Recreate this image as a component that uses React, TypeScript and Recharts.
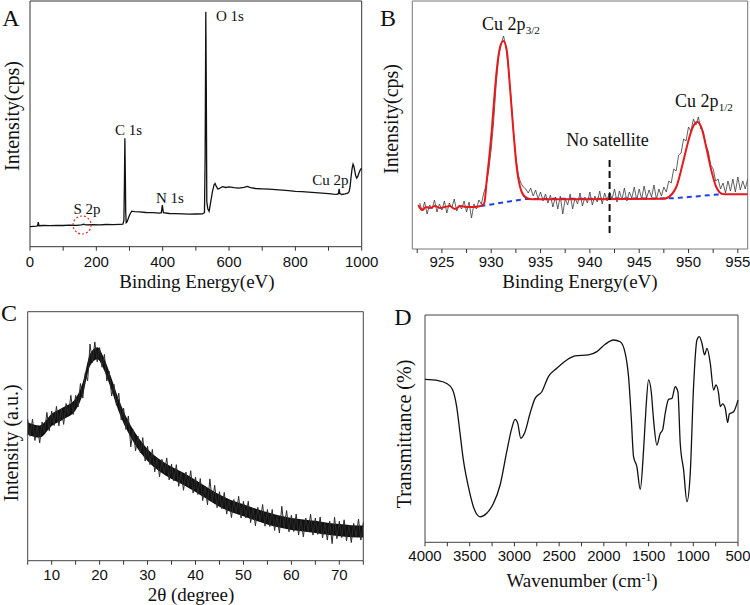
import { ComposedChart, Line, Area, XAxis, YAxis, ReferenceArea, ReferenceDot, ReferenceLine } from "recharts";

const SERIF = '"Liberation Serif", "Times New Roman", serif';
const SANS = '"Liberation Sans", Arial, sans-serif';

// ---------- A: XPS survey (binding energy eV, intensity a.u.) ----------
const aSpectrum = [
  [0, 20], [10, 20.3], [20, 20.6], [23, 21], [25, 24.5], [27, 21], [40, 21.2], [60, 21], [80, 21.4],
  [100, 21.2], [120, 21.6], [140, 21.4], [155, 21.8], [162, 22.6], [168, 21.9], [190, 22], [210, 21.8],
  [230, 22.2], [250, 22], [270, 22.3], [280, 22.5], [283, 26], [284.5, 60], [286, 108.5], [287.5, 70],
  [288.5, 35], [290, 24], [293, 25], [297, 29], [302, 33], [307, 35.5], [315, 35], [330, 34.8],
  [350, 34.2], [370, 34], [390, 33.5], [396, 34], [399, 41.5], [402, 34], [420, 33.2], [440, 33],
  [460, 32.8], [480, 32.5], [500, 32.7], [520, 32.8], [526, 34], [528, 90], [530, 235], [531.5, 160],
  [533, 45], [536, 38], [540, 35.5], [545, 45], [550, 55], [555, 62], [558, 63.2], [562, 60],
  [567, 57.5], [572, 58.5], [580, 60], [590, 59.2], [600, 59.8], [615, 59], [630, 58.6], [645, 59.3],
  [655, 60.3], [665, 59], [680, 58.2], [700, 57.8], [720, 57.5], [740, 57], [760, 56.6], [780, 56],
  [800, 55.4], [820, 55], [840, 54.6], [860, 54], [880, 53.5], [900, 53], [915, 52.5], [925, 52.4],
  [930, 53], [932, 57.8], [934, 53.2], [940, 52.2], [950, 52.8], [958, 53.5], [962, 55], [965, 60],
  [968, 70], [971, 78], [974, 82.5], [976, 81], [979, 76], [982, 71], [985, 68.5], [988, 70],
  [992, 74], [996, 77], [1000, 78.5],
];
const aTicks = [0, 100, 200, 300, 400, 500, 600, 700, 800, 900, 1000];
const aTickLabels = [0, 200, 400, 600, 800, 1000];

// ---------- B: Cu 2p high resolution ----------
const bRaw = [
  [922.75, 46], [923, 38], [923.25, 47], [923.5, 35], [923.75, 44], [924, 40], [924.25, 49], [924.5, 37],
  [924.75, 45], [925, 39], [925.25, 48], [925.5, 36], [925.75, 46], [926, 41], [926.25, 50], [926.5, 38],
  [926.75, 44], [927, 40], [927.25, 48], [927.5, 37], [927.75, 47], [928, 31], [928.25, 45], [928.5, 40],
  [928.75, 49], [929, 45], [929.25, 56], [929.5, 64], [929.75, 79], [930, 100], [930.25, 128], [930.5, 165],
  [930.75, 192], [931, 205], [931.25, 213], [931.5, 202], [931.75, 180], [932, 152], [932.25, 118], [932.5, 92],
  [932.75, 74], [933, 66], [933.25, 62], [933.5, 60], [933.75, 56], [934, 61], [934.25, 53], [934.5, 59],
  [934.75, 50], [935, 57], [935.25, 48], [935.5, 55], [935.75, 46], [936, 54], [936.25, 42], [936.5, 52],
  [936.75, 40], [937, 53], [937.25, 35], [937.5, 50], [937.75, 44], [938, 55], [938.25, 40], [938.5, 51],
  [938.75, 45], [939, 56], [939.25, 43], [939.5, 52], [939.75, 46], [940, 57], [940.25, 44], [940.5, 53],
  [940.75, 47], [941, 58], [941.25, 45], [941.5, 56], [941.75, 48], [942, 57], [942.25, 50], [942.5, 60],
  [942.75, 47], [943, 58], [943.25, 49], [943.5, 61], [943.75, 48], [944, 57], [944.25, 51], [944.5, 62],
  [944.75, 49], [945, 60], [945.25, 50], [945.5, 63], [945.75, 51], [946, 59], [946.25, 52], [946.5, 64],
  [946.75, 50], [947, 60], [947.25, 53], [947.5, 62], [947.75, 57], [948, 68], [948.25, 66], [948.5, 80],
  [948.75, 78], [949, 94], [949.25, 96], [949.5, 110], [949.75, 108], [950, 122], [950.25, 118], [950.5, 130],
  [950.75, 124], [951, 132], [951.25, 120], [951.5, 118], [951.75, 104], [952, 98], [952.25, 84], [952.5, 80],
  [952.75, 68], [953, 70], [953.25, 60], [953.5, 66], [953.75, 56], [954, 68], [954.25, 58], [954.5, 70],
  [954.75, 57], [955, 72], [955.25, 59], [955.5, 68], [955.75, 60], [956, 70],
];
const bFit = [
  [922.6, 44], [923, 39], [923.4, 42], [923.8, 41], [924.3, 43], [924.8, 41], [925.3, 42], [925.8, 43],
  [926.3, 40], [926.9, 43], [927.5, 42], [928.2, 42], [928.9, 43], [929.3, 46], [929.55, 69], [929.8, 92],
  [930.06, 119], [930.3, 150], [930.56, 179], [930.9, 202], [931.23, 208], [931.57, 199], [931.9, 162],
  [932.24, 119], [932.58, 82], [933.09, 57], [933.6, 51], [934.2, 49.7], [940, 49.8], [947.5, 50.2],
  [947.75, 50.7], [948.76, 62], [949.43, 86], [949.93, 106], [950.44, 122], [950.88, 127], [951.29, 122],
  [951.79, 102], [952.3, 79], [952.81, 62], [953.47, 55], [954, 54.8], [956, 54.7],
];
const bBackground = [
  [928.9, 43], [930, 44.5], [931.2, 46.5], [932.5, 48.5], [933.6, 50], [948, 50.7], [950, 52], [952, 53.7], [953.5, 55],
];
const bTicks = [922.5, 925, 927.5, 930, 932.5, 935, 937.5, 940, 942.5, 945, 947.5, 950, 952.5, 955];
const bTickLabels = [925, 930, 935, 940, 945, 950, 955];

// ---------- C: XRD ----------
const cPattern = [
  [5, 3.97], [5.5, 3.5], [6, 3.98], [6.5, 3.38], [7, 3.79], [7.5, 3.31], [8, 3.9], [8.5, 3.6], [9, 4.17],
  [9.5, 3.65], [10, 4.21], [10.5, 3.8], [11, 4.34], [11.5, 3.79], [12, 4.26], [12.5, 3.83], [13, 4.42],
  [13.5, 4.1], [14, 4.65], [14.5, 4.11], [15, 4.65], [15.5, 4.32], [16, 4.98], [16.5, 4.57], [17, 5.27],
  [17.5, 5.06], [18, 6.09], [18.5, 5.57], [19, 6.15], [19.5, 5.59], [20, 5.99], [20.5, 5.44], [21, 5.8],
  [21.5, 5.05], [22, 5.32], [22.5, 4.63], [23, 4.96], [23.5, 4.37], [24, 4.71], [24.5, 3.96], [25, 4.29],
  [25.5, 3.69], [26, 4.07], [26.5, 3.2], [27, 3.68], [27.5, 3.09], [28, 3.5], [28.5, 3.03], [29, 3.46],
  [29.5, 2.8], [30, 3.22], [30.5, 2.7], [31, 3.13], [31.5, 2.5], [32, 2.88], [32.5, 2.36], [33, 2.85],
  [33.5, 2.43], [34, 2.89], [34.5, 2.27], [35, 2.72], [35.5, 2.24], [36, 2.7], [36.5, 2.09], [37, 2.49],
  [37.5, 1.98], [38, 2.49], [38.5, 2.08], [39, 2.53], [39.5, 1.9], [40, 2.35], [40.5, 1.86], [41, 2.31],
  [41.5, 1.69], [42, 2.08], [42.5, 1.57], [43, 2.3], [43.5, 1.66], [44, 2.12], [44.5, 1.49], [45, 1.94],
  [45.5, 1.46], [46, 1.92], [46.5, 1.31], [47, 1.71], [47.5, 1.21], [48, 1.72], [48.5, 1.33], [49, 1.81],
  [49.5, 1.2], [50, 1.67], [50.5, 1.2], [51, 1.67], [51.5, 1.07], [52, 1.48], [52.5, 0.98], [53, 1.5],
  [53.5, 1.11], [54, 1.58], [54.5, 0.97], [55, 1.44], [55.5, 0.96], [56, 1.44], [56.5, 0.85], [57, 1.26],
  [57.5, 0.78], [58, 1.53], [58.5, 0.92], [59, 1.41], [59.5, 0.81], [60, 1.28], [60.5, 0.82], [61, 1.31],
  [61.5, 0.72], [62, 1.14], [62.5, 0.67], [63, 1.2], [63.5, 0.82], [64, 1.31], [64.5, 0.72], [65, 1.2],
  [65.5, 0.74], [66, 1.23], [66.5, 0.64], [67, 1.06], [67.5, 0.58], [68, 1.11], [68.5, 0.48], [69, 1.22],
  [69.5, 0.62], [70, 1.11], [70.5, 0.65], [71, 1.15], [71.5, 0.56], [72, 0.99], [72.5, 0.51], [73, 1.05],
  [73.5, 0.68], [74, 1.17], [74.5, 0.58], [75, 1.07],
];
// dense core of the noisy trace: [angle, low, high]
const cBand = [
  [5, 3.55, 3.89], [7.5, 3.46, 3.8], [10, 3.79, 4.13], [12.5, 3.98, 4.32], [15, 4.23, 4.57], [16.5, 4.68, 5.02],
  [18, 5.47, 5.81], [19.5, 5.66, 6.0], [21, 5.33, 5.67], [22.5, 4.78, 5.12], [24, 4.19, 4.53], [25.5, 3.72, 4.06],
  [27.5, 3.24, 3.58], [30, 2.8, 3.14], [32.5, 2.51, 2.85], [35, 2.3, 2.64], [37.5, 2.13, 2.47], [40, 1.93, 2.27],
  [42.5, 1.72, 2.06], [45, 1.52, 1.86], [47.5, 1.36, 1.7], [50, 1.25, 1.59], [52.5, 1.13, 1.47], [55, 1.02, 1.36],
  [57.5, 0.93, 1.27], [60, 0.86, 1.2], [62.5, 0.82, 1.16], [65, 0.78, 1.12], [67.5, 0.73, 1.07], [70, 0.69, 1.03],
  [72.5, 0.66, 1.0], [75, 0.65, 0.99],
];
const cTicks = [5, 10, 15, 20, 25, 30, 35, 40, 45, 50, 55, 60, 65, 70, 75];
const cTickLabels = [10, 20, 30, 40, 50, 60, 70];
const cYTicks = [0, 1, 2, 3, 4, 5, 6, 7];

// ---------- D: FTIR ----------
const dSpectrum = [
  [4000, 6.45], [3851, 6.4], [3757, 6.29], [3694, 6.06], [3646, 5.37], [3608, 4.31], [3571, 3.26],
  [3515, 2.2], [3459, 1.41], [3384, 1.01], [3310, 1.15], [3235, 1.54], [3160, 2.27], [3086, 3.59],
  [3030, 4.51], [2993, 4.87], [2963, 4.71], [2929, 4.12], [2881, 4.38], [2825, 5.11], [2769, 5.7],
  [2694, 5.96], [2620, 6.56], [2526, 6.89], [2414, 7.22], [2321, 7.38], [2172, 7.42], [2078, 7.55],
  [1985, 7.84], [1892, 8.01], [1817, 7.94], [1761, 7.48], [1724, 6.56], [1694, 4.97], [1668, 3.39],
  [1631, 3.0], [1593, 2.1], [1556, 3.65], [1530, 5.24], [1500, 6.43], [1470, 5.96], [1444, 4.84],
  [1407, 3.85], [1370, 4.31], [1343, 4.45], [1314, 5.11], [1276, 5.66], [1239, 5.7], [1202, 6.16],
  [1172, 5.96], [1146, 3.92], [1108, 2.86], [1071, 1.61], [1034, 2.73], [997, 6.16], [959, 8.01],
  [933, 8.14], [903, 7.88], [874, 7.42], [847, 7.68], [810, 7.09], [773, 6.03], [747, 6.23], [717, 5.9],
  [698, 5.37], [672, 5.48], [642, 5.3], [616, 4.74], [597, 5.08], [549, 5.17], [500, 5.63],
];
const dTicks = [4000, 3750, 3500, 3250, 3000, 2750, 2500, 2250, 2000, 1750, 1500, 1250, 1000, 750, 500];
const dTickLabels = [4000, 3500, 3000, 2500, 2000, 1500, 1000, 500];
const dYTicks = [0, 1, 2, 3, 4, 5, 6, 7, 8, 9];

const rows = (pairs: number[][]) => pairs.map(([x, y]) => ({ x, y }));
const bandRows = cBand.map(([x, lo, hi]) => ({ x, lo, hi }));

function BottomTick(props: any) {
  const { x, y, payload, labeled, dy } = props;
  const show = labeled.includes(payload.value);
  return (
    <g>
      <line x1={x} x2={x} y1={y} y2={y + 4} stroke="#333" strokeWidth={1} />
      {show && (
        <text x={x} y={y + dy} textAnchor="middle" fontFamily={SANS} fontSize={15} fill="#111">
          {payload.value}
        </text>
      )}
    </g>
  );
}

function LeftTick(props: any) {
  const { x, y, payload } = props;
  const len = payload.value % 2 === 0 ? 4 : 3;
  return <line x1={x - len} x2={x} y1={y} y2={y} stroke="#333" strokeWidth={1} />;
}

function Txt({ x, y, size = 15, rotate = false, children }: any) {
  return (
    <div
      style={{
        position: "absolute",
        left: x,
        top: y,
        transform: `translate(-50%, -50%)${rotate ? " rotate(-90deg)" : ""}`,
        fontFamily: SERIF,
        fontSize: size,
        lineHeight: 1,
        whiteSpace: "nowrap",
        color: "#111",
      }}
    >
      {children}
    </div>
  );
}

const subStyle = { fontSize: "0.62em", verticalAlign: "-0.35em" };
const box = (left: number, top: number) => ({ position: "absolute" as const, left, top });

export default function App() {
  return (
    <div style={{ position: "absolute", left: 0, top: 0, width: 750, height: 605, background: "#fff", overflow: "hidden" }}>
      {/* A */}
      <div style={box(0, 0)}>
        <ComposedChart width={390} height={300} margin={{ top: 1, right: 28.3, bottom: 0, left: 30 }}>
          <XAxis
            dataKey="x"
            type="number"
            domain={[0, 1000]}
            ticks={aTicks}
            interval={0}
            height={53.3}
            axisLine={false}
            tickLine={false}
            tickSize={0}
            tickMargin={0}
            tick={(p: any) => <BottomTick {...p} labeled={aTickLabels} dy={20} />}
          />
          <YAxis hide type="number" domain={[0, 245.7]} allowDataOverflow />
          <Line data={rows(aSpectrum)} dataKey="y" type="linear" stroke="#111" strokeWidth={1.3} dot={false} isAnimationActive={false} />
          <ReferenceDot x={157} y={21.7} r={9} fill="none" stroke="#e02828" strokeWidth={1.2} strokeDasharray="2 2" />
          <ReferenceArea x1={0} x2={1000} y1={0} y2={245.7} fill="none" stroke="#333" strokeWidth={1} />
        </ComposedChart>
      </div>
      <Txt x={11} y={18} size={24}>A</Txt>
      <Txt x={230} y={16}>O 1s</Txt>
      <Txt x={128.5} y={129.5}>C 1s</Txt>
      <Txt x={170} y={198}>N 1s</Txt>
      <Txt x={87} y={209}>S 2p</Txt>
      <Txt x={330.5} y={179.5}>Cu 2p</Txt>
      <Txt x={197} y={281} size={19}>Binding Energy(eV)</Txt>
      <Txt x={12} y={116} size={20} rotate>Intensity(cps)</Txt>

      {/* B */}
      <div style={box(375, 0)}>
        <ComposedChart width={375} height={300} margin={{ top: 1, right: 2.3, bottom: 0, left: 37.3 }}>
          <XAxis
            dataKey="x"
            type="number"
            domain={[922, 956]}
            ticks={bTicks}
            interval={0}
            height={51}
            axisLine={false}
            tickLine={false}
            tickSize={0}
            tickMargin={0}
            allowDataOverflow
            tick={(p: any) => <BottomTick {...p} labeled={bTickLabels} dy={18} />}
          />
          <YAxis hide type="number" domain={[0, 248]} allowDataOverflow />
          <Line data={rows(bRaw)} dataKey="y" type="linear" stroke="#3a3a3a" strokeWidth={0.8} dot={false} isAnimationActive={false} />
          <Line data={rows(bBackground)} dataKey="y" type="monotone" stroke="#2040e0" strokeWidth={2} strokeDasharray="5 4" dot={false} isAnimationActive={false} />
          <Line data={rows(bFit)} dataKey="y" type="monotone" stroke="#e8191b" strokeWidth={2} dot={false} isAnimationActive={false} />
          <ReferenceLine segment={[{ x: 942, y: 16 }, { x: 942, y: 92 }]} stroke="#111" strokeWidth={2} strokeDasharray="7 4" />
          <ReferenceArea x1={922} x2={956} y1={0} y2={248} fill="none" stroke="#777" strokeWidth={1} />
        </ComposedChart>
      </div>
      <Txt x={388} y={18} size={24}>B</Txt>
      <Txt x={511} y={26} size={18}>Cu 2p<sub style={subStyle}>3/2</sub></Txt>
      <Txt x={704} y={103} size={18}>Cu 2p<sub style={subStyle}>1/2</sub></Txt>
      <Txt x={607.5} y={140} size={18}>No satellite</Txt>
      <Txt x={580} y={281} size={19}>Binding Energy(eV)</Txt>
      <Txt x={391} y={119} size={20} rotate>Intensity(cps)</Txt>

      {/* C */}
      <div style={box(0, 300)}>
        <ComposedChart width={375} height={305} margin={{ top: 11.7, right: 11.7, bottom: 0, left: 27.7 }}>
          <XAxis
            dataKey="x"
            type="number"
            domain={[5, 75]}
            ticks={cTicks}
            interval={0}
            height={44.3}
            axisLine={false}
            tickLine={false}
            tickSize={0}
            tickMargin={0}
            tick={(p: any) => <BottomTick {...p} labeled={cTickLabels} dy={19.5} />}
          />
          <YAxis
            type="number"
            domain={[0, 7]}
            ticks={cYTicks}
            interval={0}
            width={0}
            axisLine={false}
            tickLine={false}
            tickSize={0}
            tickMargin={0}
            tick={(p: any) => <LeftTick {...p} />}
          />
          <Area data={bandRows} dataKey={(r: any) => [r.lo, r.hi]} type="monotone" stroke="none" fill="#111" fillOpacity={1} isAnimationActive={false} />
          <Line data={rows(cPattern)} dataKey="y" type="linear" stroke="#2a2a2a" strokeWidth={1} dot={false} isAnimationActive={false} />
          <ReferenceArea x1={5} x2={75} y1={0} y2={7} fill="none" stroke="#444" strokeWidth={1} />
        </ComposedChart>
      </div>
      <Txt x={9} y={313} size={24}>C</Txt>
      <Txt x={191} y={594} size={19}>2θ (degree)</Txt>
      <Txt x={11} y={443} size={20} rotate>Intensity (a.u.)</Txt>

      {/* D */}
      <div style={box(375, 300)}>
        <ComposedChart width={375} height={305} margin={{ top: 15, right: 12, bottom: 0, left: 50 }}>
          <XAxis
            dataKey="x"
            type="number"
            domain={[500, 4000]}
            reversed
            ticks={dTicks}
            interval={0}
            height={62.7}
            axisLine={false}
            tickLine={false}
            tickSize={0}
            tickMargin={0}
            tick={(p: any) => <BottomTick {...p} labeled={dTickLabels} dy={18.5} />}
          />
          <YAxis
            type="number"
            domain={[0, 9]}
            ticks={dYTicks}
            interval={0}
            width={0}
            axisLine={false}
            tickLine={false}
            tickSize={0}
            tickMargin={0}
            tick={(p: any) => <LeftTick {...p} />}
          />
          <Line data={rows(dSpectrum)} dataKey="y" type="monotone" stroke="#111" strokeWidth={1.3} dot={false} isAnimationActive={false} />
          <ReferenceArea x1={500} x2={4000} y1={0} y2={9} fill="none" stroke="#444" strokeWidth={1} />
        </ComposedChart>
      </div>
      <Txt x={403} y={317} size={24}>D</Txt>
      <Txt x={582} y={580} size={19}>
        Wavenumber (cm<sup style={{ fontSize: "0.62em", verticalAlign: "0.5em" }}>-1</sup>)
      </Txt>
      <Txt x={404} y={434} size={20} rotate>Transmittance (%)</Txt>
    </div>
  );
}
